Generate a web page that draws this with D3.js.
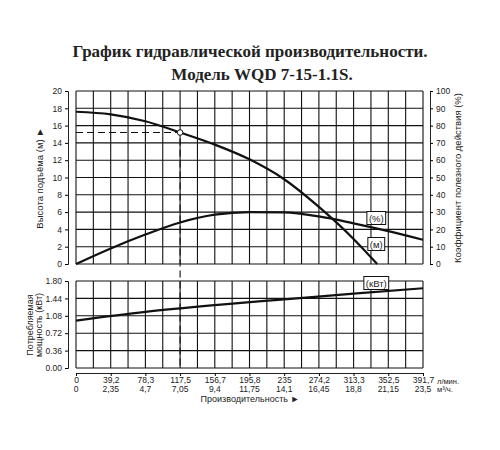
<!DOCTYPE html>
<html><head><meta charset="utf-8">
<script src="https://cdn.jsdelivr.net/npm/d3@7"></script>
<style>body{margin:0;background:#fff}text{font-family:"Liberation Sans",Arial,sans-serif;fill:#222}</style>
</head><body><svg id="c" width="500" height="450"></svg>
<script>
// values
var flowLmin = [0, 39.2, 78.3, 117.5, 156.7, 195.8, 235, 274.2, 313.3, 352.5, 391.7];
var flowM3h = ["0", "2,35", "4,7", "7,05", "9,4", "11,75", "14,1", "16,45", "18,8", "21,15", "23,5"];
var headX = [0, 39.2, 78.3, 117.5, 156.7, 195.8, 235, 274.2, 313.3, 340];
var headM = [17.6, 17.3, 16.5, 15.2, 13.8, 12.1, 9.8, 6.6, 2.9, 0];
var effX = [0, 39.2, 78.3, 117.5, 156.7, 195.8, 235, 274.2, 313.3, 352.5, 391.7];
var effPct = [0, 9, 17, 24, 28.5, 30, 29.8, 27.5, 23.5, 19, 14];
var powX = [0, 78.3, 156.7, 235, 313.3, 391.7];
var powKw = [0.98, 1.16, 1.3, 1.42, 1.54, 1.65];
var headTicks = d3.range(0, 21, 2);
var effTicks = d3.range(0, 101, 10);
var powTicks = [0, 0.36, 0.72, 1.08, 1.44, 1.80];
var dutyPoint = {q: 117.5, h: 15.2};

var svg = d3.select("#c");
var x = d3.scaleLinear().domain([0, 391.7]).range([76, 423]);
var yH = d3.scaleLinear().domain([0, 20]).range([264, 91]);
var yE = d3.scaleLinear().domain([0, 100]).range([264, 91]);
var yP = d3.scaleLinear().domain([0, 1.8]).range([368, 281]);

svg.append("text").attr("x", 250).attr("y", 57).attr("text-anchor", "middle")
	.style("font", "bold 17px 'Liberation Serif',serif").text("График гидравлической производительности.");
svg.append("text").attr("x", 262).attr("y", 80).attr("text-anchor", "middle")
	.style("font", "bold 17px 'Liberation Serif',serif").text("Модель WQD 7-15-1.1S.");

// grid
var g = svg.append("g").attr("stroke", "#111").attr("stroke-width", 1.1);
var halfSteps = d3.range(0, 21).map(function(i) { return i * 391.7 / 20; });
halfSteps.forEach(function(q) {
	g.append("line").attr("x1", x(q)).attr("x2", x(q)).attr("y1", yH(20)).attr("y2", yH(0));
	g.append("line").attr("x1", x(q)).attr("x2", x(q)).attr("y1", yP(1.8)).attr("y2", yP(0));
});
headTicks.forEach(function(h) {
	g.append("line").attr("x1", x(0)).attr("x2", x(391.7)).attr("y1", yH(h)).attr("y2", yH(h));
});
powTicks.forEach(function(p) {
	g.append("line").attr("x1", x(0)).attr("x2", x(391.7)).attr("y1", yP(p)).attr("y2", yP(p));
});

// axes
var axL = d3.axisLeft(yH).tickValues(headTicks).tickSize(3).tickPadding(3);
svg.append("g").attr("transform", "translate(68,0)").call(axL);
var axR = d3.axisRight(yE).tickValues(effTicks).tickSize(3).tickPadding(3);
svg.append("g").attr("transform", "translate(430,0)").call(axR);
var axP = d3.axisLeft(yP).tickValues(powTicks).tickSize(3).tickPadding(3).tickFormat(d3.format(".2f"));
svg.append("g").attr("transform", "translate(68,0)").call(axP);
var axB = d3.axisBottom(x).tickValues(flowLmin).tickSize(3).tickPadding(1)
	.tickFormat(function(d) { return String(d).replace(".", ","); });
svg.append("g").attr("transform", "translate(0,373)").call(axB);
svg.selectAll(".domain").attr("stroke", "#222");
svg.selectAll(".tick text").style("font-size", "8.5px");
svg.append("g").selectAll("text").data(flowM3h).enter().append("text")
	.attr("x", function(d, i) { return x(flowLmin[i]); }).attr("y", 392)
	.attr("text-anchor", "middle").style("font-size", "8.5px").text(function(d) { return d; });
svg.append("text").attr("x", 437).attr("y", 384).style("font-size", "7.5px").text("л/мин.");
svg.append("text").attr("x", 437).attr("y", 392).style("font-size", "7.5px").text("м³/ч.");
svg.append("text").attr("x", 250).attr("y", 402).attr("text-anchor", "middle").style("font-size", "9px").text("Производительность ►");
svg.append("text").attr("transform", "translate(43,178) rotate(-90)").attr("text-anchor", "middle")
	.style("font-size", "9.5px").text("Высота подъёма (м) ►");
svg.append("text").attr("transform", "translate(33,325) rotate(-90)").attr("text-anchor", "middle")
	.style("font-size", "9px").text("Потребляемая");
svg.append("text").attr("transform", "translate(42,325) rotate(-90)").attr("text-anchor", "middle")
	.style("font-size", "9px").text("мощность (кВт)");
svg.append("text").attr("transform", "translate(461,178) rotate(-90)").attr("text-anchor", "middle")
	.style("font-size", "9.5px").text("Коэффициент полезного действия (%)");

// curves
function curve(xs, ys, ys_scale) {
	return d3.line().curve(d3.curveMonotoneX)
		.x(function(d, i) { return x(xs[i]); }).y(function(d) { return ys_scale(d); })(ys);
}
svg.append("path").attr("d", curve(headX, headM, yH)).attr("fill", "none").attr("stroke", "#111").attr("stroke-width", 2.2);
svg.append("path").attr("d", curve(effX, effPct, yE)).attr("fill", "none").attr("stroke", "#111").attr("stroke-width", 2.2);
svg.append("path").attr("d", curve(powX, powKw, yP)).attr("fill", "none").attr("stroke", "#111").attr("stroke-width", 2.2);

// duty point
svg.append("path").attr("d", "M" + x(0) + "," + yH(dutyPoint.h) + "H" + x(dutyPoint.q) + "V" + yP(0))
	.attr("fill", "none").attr("stroke", "#111").attr("stroke-dasharray", "7,4").attr("stroke-width", 1.1);
svg.append("circle").attr("cx", x(dutyPoint.q)).attr("cy", yH(dutyPoint.h)).attr("r", 2.8)
	.attr("fill", "#fff").attr("stroke", "#111");

// curve labels
var labels = [{t: "(%)", q: 352.5, y: 218}, {t: "(м)", q: 352.5, y: 244}, {t: "(кВт)", q: 352.5, y: 283}];
labels.forEach(function(l) {
	var gl = svg.append("g");
	var tx = gl.append("text").attr("x", x(l.q) - 12).attr("y", l.y + 3.5).attr("text-anchor", "middle")
		.style("font-size", "9.5px").text(l.t);
	var bb = tx.node().getBBox();
	gl.insert("rect", "text").attr("x", bb.x - 2).attr("y", bb.y - 1).attr("width", bb.width + 4).attr("height", bb.height + 2)
		.attr("fill", "#fff").attr("stroke", "#111");
});
</script></body></html>
